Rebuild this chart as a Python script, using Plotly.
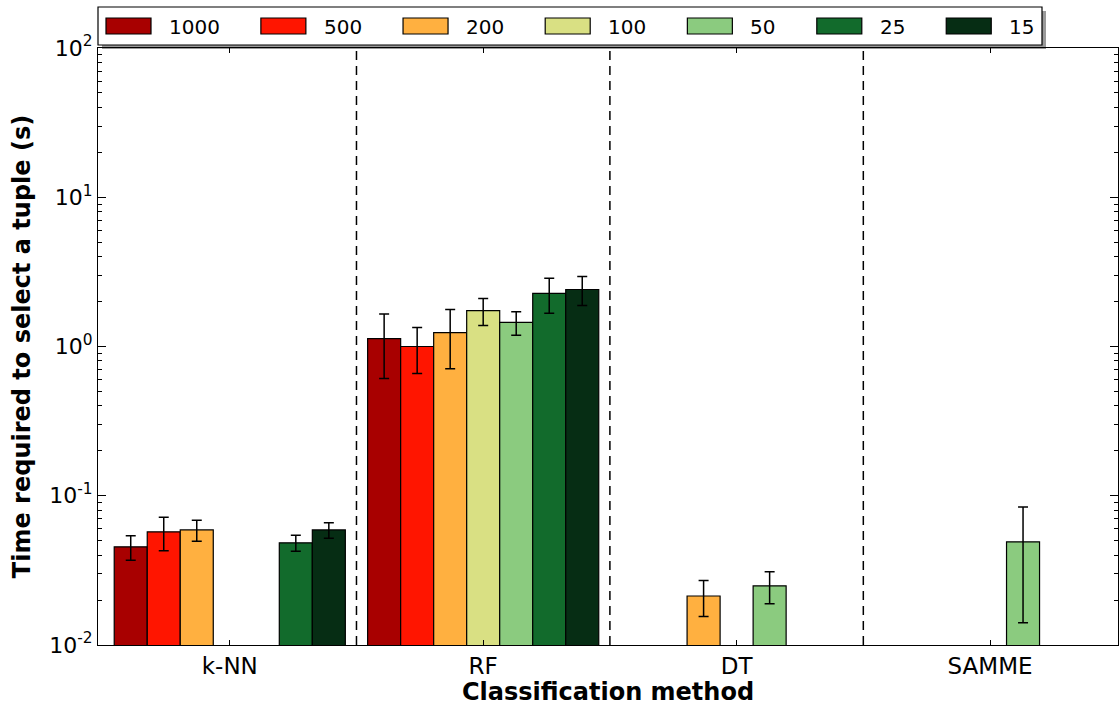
import plotly.graph_objects as go

methods = ["k-NN", "RF", "DT", "SAMME"]
sizes = ["1000", "500", "200", "100", "50", "25", "15"]
colors = ["#a80000", "#ff1500", "#ffb040", "#d9e083", "#8bcb7f", "#126b2c", "#062d14"]

values = {
    "1000": [0.0455, 1.13, None, None],
    "500": [0.0573, 1.00, None, None],
    "200": [0.0590, 1.24, 0.0213, None],
    "100": [None, 1.74, None, None],
    "50": [None, 1.45, 0.0249, 0.0491],
    "25": [0.0484, 2.27, None, None],
    "15": [0.0590, 2.41, None, None],
}
errors = {
    "1000": [0.0085, 0.52, None, None],
    "500": [0.0145, 0.34, None, None],
    "200": [0.0095, 0.53, 0.0058, None],
    "100": [None, 0.355, None, None],
    "50": [None, 0.26, 0.0060, 0.035],
    "25": [0.0060, 0.60, None, None],
    "15": [0.0070, 0.53, None, None],
}

y_tickvals = [0.01, 0.1, 1, 10, 100]
y_ticktext = ["10<sup>-2</sup>", "10<sup>-1</sup>", "10<sup>0</sup>", "10<sup>1</sup>", "10<sup>2</sup>"]

FONT = "DejaVu Sans"
W, H = 1120, 706
ML, MR, MT, MB = 98, 2, 48, 61
PW, PH = W - ML - MR, H - MT - MB


def px_x(px):
    return (px - ML) / PW


def px_y(py):
    return (H - MB - py) / PH


fig = go.Figure()
for s, c in zip(sizes, colors):
    fig.add_trace(go.Bar(
        name=s, x=methods, y=values[s], showlegend=False,
        marker=dict(color=c, line=dict(color="black", width=1.2)),
        error_y=dict(type="data", array=errors[s], visible=True,
                     color="black", thickness=1.5, width=5),
    ))

minor_vals = [d * k for d in [0.01, 0.1, 1, 10] for k in range(2, 10)]

# dashed separators between groups
for b in [0.5, 1.5, 2.5]:
    fig.add_shape(type="line", xref="x", yref="paper", x0=b, x1=b, y0=0, y1=1,
                  line=dict(color="black", width=1.5, dash="9px,6px"), layer="above")

# legend (matplotlib-style, top, with shadow)
LEG_FS = 20
fig.add_shape(type="rect", xref="paper", yref="paper",
              x0=px_x(102), x1=px_x(1046), y0=px_y(49), y1=px_y(11),
              fillcolor="#9a9a9a", line=dict(width=0), layer="below")
fig.add_shape(type="rect", xref="paper", yref="paper",
              x0=px_x(98), x1=px_x(1042), y0=px_y(45), y1=px_y(7),
              fillcolor="white", line=dict(color="black", width=1.2), layer="below")
xpos = 106.0
for s, c in zip(sizes, colors):
    fig.add_shape(type="rect", xref="paper", yref="paper",
                  x0=px_x(xpos), x1=px_x(xpos + 45), y0=px_y(34), y1=px_y(18),
                  fillcolor=c, line=dict(color="black", width=1.2), layer="below")
    fig.add_annotation(text=s, xref="paper", yref="paper", x=px_x(xpos + 61), y=px_y(27),
                       xanchor="left", yanchor="middle", showarrow=False,
                       font=dict(family=FONT, size=LEG_FS, color="black"))
    xpos += len(s) * 0.636 * LEG_FS + 104

fig.update_layout(
    width=W, height=H,
    margin=dict(l=ML, r=MR, t=MT, b=MB),
    paper_bgcolor="white", plot_bgcolor="rgba(0,0,0,0)",
    barmode="group", bargap=0.088, bargroupgap=0,
    font=dict(family=FONT, size=20, color="black"),
    showlegend=False,
    xaxis=dict(
        range=[-0.52, 3.505],
        showline=True, linecolor="black", linewidth=1.2, mirror="allticks",
        ticks="inside", ticklen=5, tickcolor="black",
        tickfont=dict(family=FONT, size=23),
        title=dict(text="<b>Classification method</b>", font=dict(family=FONT, size=24), standoff=5),
        showgrid=False, zeroline=False,
    ),
    yaxis=dict(
        type="log", range=[-2, 2],
        showline=True, linecolor="black", linewidth=1.2, mirror="allticks",
        ticks="inside", ticklen=8, tickcolor="black",
        tickmode="array", tickvals=y_tickvals, ticktext=y_ticktext,
        tickfont=dict(family=FONT, size=22),
        minor=dict(tickmode="array", tickvals=minor_vals, ticks="inside", ticklen=4,
                   tickcolor="black", showgrid=False),
        title=dict(text="<b>Time required to select a tuple (s)</b>", font=dict(family=FONT, size=24), standoff=11),
        showgrid=False, zeroline=False,
    ),
)

fig.write_html("out.html")
